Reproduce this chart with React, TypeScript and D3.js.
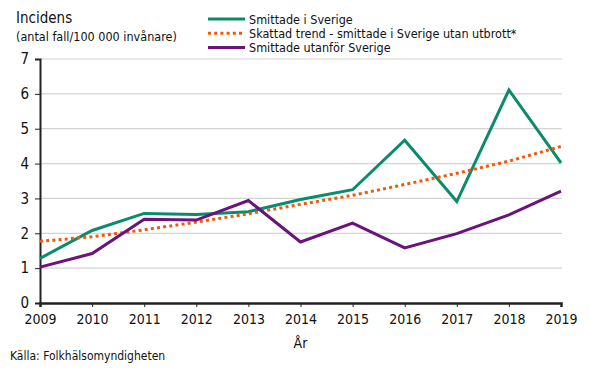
import React, { useEffect, useRef } from 'react'
import * as d3 from 'd3'

const years = [2009, 2010, 2011, 2012, 2013, 2014, 2015, 2016, 2017, 2018, 2019]
const inSweden = [1.28, 2.08, 2.57, 2.54, 2.62, 2.97, 3.25, 4.67, 2.91, 6.11, 4.02]
const trend = [1.77, 1.9, 2.1, 2.32, 2.56, 2.83, 3.09, 3.4, 3.72, 4.07, 4.49]
const abroad = [1.03, 1.42, 2.4, 2.38, 2.94, 1.75, 2.29, 1.58, 1.99, 2.53, 3.21]
const yTicks = [0, 1, 2, 3, 4, 5, 6, 7]

const series = [
  { name: 'Smittade i Sverige', values: inSweden, color: '#0a8c6c', dash: null },
  { name: 'Skattad trend - smittade i Sverige utan utbrott*', values: trend, color: '#f0580a', dash: '3,3.2' },
  { name: 'Smittade utanför Sverige', values: abroad, color: '#6b137c', dash: null }
]

const FONT = '"DejaVu Sans Condensed", "DejaVu Sans", sans-serif'

export default function App() {
  const svgRef = useRef<SVGSVGElement>(null)

  useEffect(() => {
    if (!svgRef.current) return
    const svg = d3.select(svgRef.current)
    svg.selectAll('*').remove()

    const left = 40
    const right = 561
    const top = 59
    const bottom = 303

    const x = d3.scaleLinear().domain([2009, 2019]).range([left, right])
    const y = d3.scaleLinear().domain([0, 7]).range([bottom, top])

    // grid
    svg.append('g')
      .selectAll('line')
      .data(yTicks.filter(t => t > 0))
      .enter()
      .append('line')
      .attr('x1', left)
      .attr('x2', right + 1)
      .attr('y1', d => y(d))
      .attr('y2', d => y(d))
      .attr('stroke', '#d4d4d4')
      .attr('stroke-width', 1.2)

    // y axis
    const yAxis = svg.append('g')
      .attr('transform', `translate(${left},0)`)
      .call(d3.axisLeft(y).tickValues(yTicks).tickSize(5).tickPadding(6).tickFormat(d3.format('d')))
    yAxis.select('.domain').attr('stroke', '#222').attr('stroke-width', 2)
    yAxis.selectAll('.tick line').attr('stroke', '#222').attr('stroke-width', 1)
    yAxis.selectAll('.tick text')
      .attr('font-family', FONT)
      .attr('font-size', 15)
      .attr('fill', '#111')

    // x axis
    const xAxis = svg.append('g')
      .attr('transform', `translate(0,${bottom})`)
      .call(d3.axisBottom(x).tickValues(years).tickSize(4).tickPadding(7).tickFormat(d3.format('d')))
    xAxis.select('.domain').attr('stroke', '#222').attr('stroke-width', 2.5)
    xAxis.selectAll('.tick line').attr('stroke', '#222').attr('stroke-width', 1)
    xAxis.selectAll('.tick text')
      .attr('font-family', FONT)
      .attr('font-size', 14)
      .attr('fill', '#111')

    // lines
    const line = d3.line<number>()
      .x((_, i) => x(years[i]))
      .y(d => y(d))

    series.forEach(s => {
      svg.append('path')
        .datum(s.values)
        .attr('fill', 'none')
        .attr('stroke', s.color)
        .attr('stroke-width', 3)
        .attr('stroke-dasharray', s.dash ?? null)
        .attr('stroke-linejoin', 'miter')
        .attr('d', line)
    })

    // legend
    const legend = svg.append('g').attr('transform', 'translate(208,19)')
    series.forEach((s, i) => {
      legend.append('line')
        .attr('x1', 0)
        .attr('x2', 37)
        .attr('y1', i * 14.3)
        .attr('y2', i * 14.3)
        .attr('stroke', s.color)
        .attr('stroke-width', 3)
        .attr('stroke-dasharray', s.dash ?? null)
      legend.append('text')
        .attr('x', 41)
        .attr('y', i * 14.3 + 4.5)
        .attr('font-family', FONT)
        .attr('font-size', 12.5)
        .attr('fill', '#111')
        .text(s.name)
    })

    // titles
    svg.append('text')
      .attr('x', 16).attr('y', 23)
      .attr('font-family', FONT).attr('font-size', 15).attr('fill', '#111')
      .text('Incidens')
    svg.append('text')
      .attr('x', 16).attr('y', 41)
      .attr('font-family', FONT).attr('font-size', 12.5).attr('fill', '#111')
      .text('(antal fall/100 000 invånare)')
    svg.append('text')
      .attr('x', (left + right) / 2).attr('y', 348)
      .attr('text-anchor', 'middle')
      .attr('font-family', FONT).attr('font-size', 14).attr('fill', '#111')
      .text('År')
    svg.append('text')
      .attr('x', 10).attr('y', 360)
      .attr('font-family', FONT).attr('font-size', 12).attr('fill', '#111')
      .text('Källa:  Folkhälsomyndigheten')
  }, [])

  return (
    <svg
      ref={svgRef}
      width={590}
      height={369}
      style={{ position: 'absolute', left: 0, top: 0, background: '#fff' }}
    />
  )
}
